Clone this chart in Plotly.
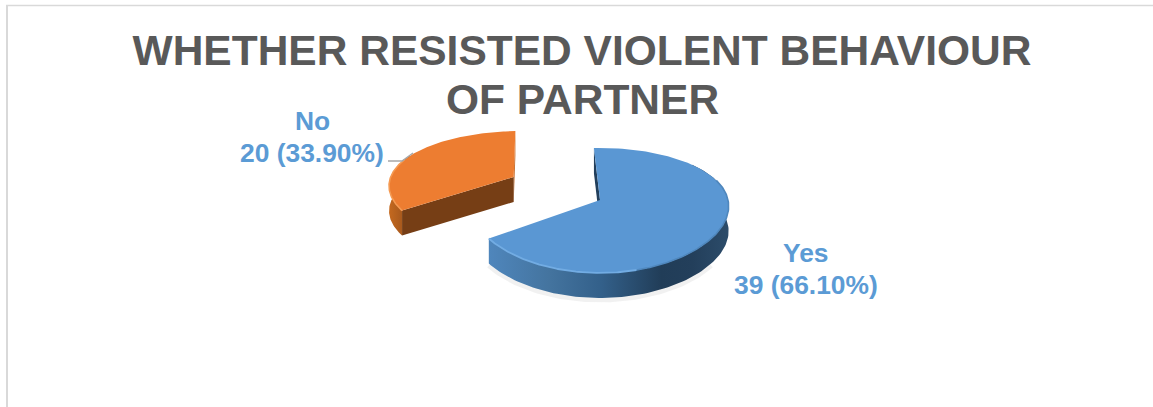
import numpy as np
import plotly.graph_objects as go

# Survey counts
categories = ["Yes", "No"]
counts = [39, 20]
title_lines = ["WHETHER RESISTED VIOLENT BEHAVIOUR", "OF PARTNER"]

WIDTH, HEIGHT = 1153, 407
LABEL_BLUE = "#5b9bd5"
TITLE_GREY = "#595959"
FONT = "Liberation Sans, Arial, sans-serif"
TITLE_SIZE = 42.5

# Projection of the tilted pie: disc coordinates (u, v) onto the plane
CX, CY = 600.0, 200.0
RX, RY = 128.0, 60.7
PERSPECTIVE_X = 0.10
PERSPECTIVE_Y = 0.168
DEPTH = 25.0
START_DEG = -3.0
EXPLODE = 0.81
EXPLODE_BIAS_DEG = 4.0


def project(u, v, drop=0.0):
    sx = 1.0 / (1.0 + PERSPECTIVE_X * v)
    sy = 1.0 / (1.0 + PERSPECTIVE_Y * v)
    return CX + RX * u * sx, CY - RY * v * sy + drop


def arc(t0, t1, off=(0.0, 0.0), drop=0.0, n=120):
    t = np.radians(np.linspace(t0, t1, n))
    return project(np.sin(t) + off[0], np.cos(t) + off[1], drop)


def polygon(fig, x, y, color=None, gradient=None):
    x = list(x) + [x[0]]
    y = list(y) + [y[0]]
    extra = {"fillgradient": gradient} if gradient else {"fillcolor": color}
    fig.add_trace(go.Scatter(x=x, y=y, mode="lines", fill="toself",
                             line=dict(width=0), hoverinfo="skip",
                             showlegend=False, **extra))


def rim(fig, x, y, color, width=2.0):
    fig.add_trace(go.Scatter(x=x, y=y, mode="lines",
                             line=dict(color=color, width=width),
                             hoverinfo="skip", showlegend=False))


total = sum(counts)
yes_sweep = 360.0 * counts[0] / total
yes_start, yes_end = START_DEG, START_DEG + yes_sweep
no_start, no_end = yes_end, START_DEG + 360.0
no_mid = np.radians((no_start + no_end) / 2 + EXPLODE_BIAS_DEG)
no_off = (EXPLODE * np.sin(no_mid), EXPLODE * np.cos(no_mid))

fig = go.Figure()

# "No" slice, pulled out of the pie
ax, ay = project(no_off[0], no_off[1])
ax2, ay2 = project(no_off[0], no_off[1], DEPTH)
wx, wy = arc(no_start, no_start + 60, no_off)
wx2, wy2 = arc(no_start, no_start + 60, no_off, DEPTH)
polygon(fig, np.r_[wx, wx2[::-1]], np.r_[wy, wy2[::-1]],
        gradient=dict(type="horizontal",
                      colorscale=[[0, "#c4691f"], [0.6, "#a95a1d"], [1, "#8f4c1b"]]))
ex, ey = arc(no_end, no_end, no_off, n=1)
ex2, ey2 = arc(no_end, no_end, no_off, DEPTH, n=1)
polygon(fig, [ax, ex[0], ex2[0], ax2], [ay, ey[0], ey2[0], ay2], color="#c46a28")
sx, sy = arc(no_start, no_start, no_off, n=1)
sx2, sy2 = arc(no_start, no_start, no_off, DEPTH, n=1)
polygon(fig, [ax, sx[0], sx2[0], ax2], [ay, sy[0], sy2[0], ay2], color="#763e15")
tx, ty = arc(no_start, no_end, no_off)
polygon(fig, np.r_[ax, tx], np.r_[ay, ty], color="#ed7d31")
rx, ry = arc(no_start, no_start + 55, no_off)
rim(fig, rx, ry, "#f59a52", 1.6)

# "Yes" slice
px, py = project(0.0, 0.0)
px2, py2 = project(0.0, 0.0, DEPTH)
# soft contact shadow along the foot of the outer wall
shx, shy = arc(125, yes_end, drop=DEPTH + 2)
rim(fig, shx, shy, "rgba(120,120,120,0.10)", 5)
wx, wy = arc(50, yes_end)
wx2, wy2 = arc(50, yes_end, drop=DEPTH)
polygon(fig, np.r_[wx, wx2[::-1]], np.r_[wy, wy2[::-1]],
        gradient=dict(type="horizontal",
                      colorscale=[[0, "#4f86bc"], [0.25, "#44749f"], [0.47, "#33608a"],
                                  [0.72, "#213d58"], [0.85, "#233f5b"], [1, "#2c4c6a"]]))
sx, sy = arc(yes_start, yes_start, n=1)
sx2, sy2 = arc(yes_start, yes_start, drop=DEPTH, n=1)
polygon(fig, [px, sx[0], sx2[0], px2], [py, sy[0], sy2[0], py2], color="#223f5c")
tx, ty = arc(yes_start, yes_end)
polygon(fig, np.r_[px, tx], np.r_[py, ty], color="#5a97d3")
rx, ry = arc(165, yes_end)
rim(fig, rx, ry, "#72ace3", 1.8)
rx, ry = arc(70, 165)
rim(fig, rx, ry, "#4f87bd", 1.6)


def label(text, x, y, size=26.4, color=LABEL_BLUE):
    return dict(text=f"<b>{text}</b>", x=x, y=y, xref="x", yref="y", showarrow=False,
                xanchor="center", yanchor="middle",
                font=dict(family=FONT, size=size, color=color))


def value_text(i):
    return f"{counts[i]} ({100 * counts[i] / total:.2f}%)"


annotations = [
    label(title_lines[1], 582, 99, size=TITLE_SIZE, color=TITLE_GREY),
    label(categories[1], 312, 121),
    label(value_text(1), 312, 153),
    label(categories[0], 806, 253),
    label(value_text(0), 806, 285),
]

shapes = [
    # chart frame, open on the right and bottom edges of the view
    dict(type="line", xref="x", yref="y", x0=6, x1=WIDTH, y0=5.5, y1=5.5,
         line=dict(color="#d9d9d9", width=1.5)),
    dict(type="line", xref="x", yref="y", x0=7, x1=7, y0=5, y1=HEIGHT,
         line=dict(color="#d9d9d9", width=2)),
    # leader line of the "No" label
    dict(type="path", xref="x", yref="y", path="M 388 161 L 402 161 L 413 153",
         line=dict(color="#a6a6a6", width=1.3)),
]

fig.update_layout(
    width=WIDTH, height=HEIGHT,
    margin=dict(l=0, r=0, t=0, b=0),
    paper_bgcolor="white", plot_bgcolor="white",
    showlegend=False,
    title=dict(text=f"<b>{title_lines[0]}</b>", x=582 / WIDTH, xanchor="center",
               xref="paper", yref="paper", y=1 - 50 / HEIGHT, yanchor="middle",
               font=dict(family=FONT, size=TITLE_SIZE, color=TITLE_GREY)),
    xaxis=dict(visible=False, range=[0, WIDTH], fixedrange=True),
    yaxis=dict(visible=False, range=[HEIGHT, 0], fixedrange=True),
    annotations=annotations, shapes=shapes,
)

fig.write_html("out.html")
